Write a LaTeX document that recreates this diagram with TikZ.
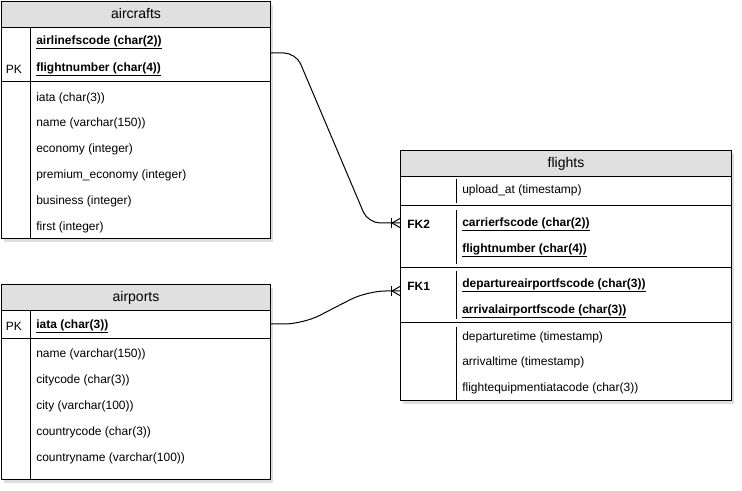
\documentclass[tikz,border=0pt]{standalone}
\usepackage{fontspec}
\setmainfont{Liberation Sans}
\usetikzlibrary{arrows.meta,positioning,calc}
\definecolor{headgray}{HTML}{E0E0E0}

\tikzset{
  tbl/.style={draw, line width=0.75pt, anchor=north west, inner sep=0pt},
  tblhead/.style={tbl, fill=headgray, font=\fontsize{10.5}{12}\selectfont, text depth=0pt, text height=6pt},
  fld/.style={anchor=west, inner sep=0pt, yshift=-1.2pt, font=\fontsize{9}{11}\selectfont},
  keyfld/.style={fld, font=\fontsize{9}{11}\selectfont\bfseries},
  shade/.style={fill=black, opacity=0.13},
  rel/.style={line width=0.75pt},
}

\begin{document}
\begin{tikzpicture}[x=0.75pt, y=-0.75pt]
  \useasboundingbox (0,0) rectangle (742,491);

  % shadows
  \fill[shade] (4,5) rectangle (273,242);
  \fill[shade] (4,288) rectangle (273,483);
  \fill[shade] (403,154) rectangle (734,404);

  % aircrafts
  \node[tbl, fill=white, minimum width=201.75pt, minimum height=177.75pt] (aircrafts) at (1,1) {};
  \node[tblhead, minimum width=201.75pt, minimum height=19.5pt] (aircraftsHead) at (1,1) {aircrafts};
  \draw[line width=0.75pt] (1,82) -- (270,82);
  \draw[line width=0.75pt] (30,27) -- (30,238);
  \node[fld, anchor=center] (aircraftsPK) at (14,68) {PK};
  \node[keyfld] (acCode) at (36,41) {\underline{airlinefscode (char(2))}};
  \node[keyfld] (acNumber) at (36,68) {\underline{flightnumber (char(4))}};
  \node[fld] (acIata) at (36,97) {iata (char(3))};
  \node[fld] (acName) at (36,122) {name (varchar(150))};
  \node[fld] (acEconomy) at (36,148) {economy (integer)};
  \node[fld] (acPremium) at (36,174) {premium\_economy (integer)};
  \node[fld] (acBusiness) at (36,200) {business (integer)};
  \node[fld] (acFirst) at (36,226) {first (integer)};

  % airports
  \node[tbl, fill=white, minimum width=201.75pt, minimum height=146.25pt] (airports) at (1,284) {};
  \node[tblhead, minimum width=201.75pt, minimum height=19.5pt] (airportsHead) at (1,284) {airports};
  \draw[line width=0.75pt] (1,339) -- (270,339);
  \draw[line width=0.75pt] (30,310) -- (30,479);
  \node[fld, anchor=center] (airportsPK) at (14,325) {PK};
  \node[keyfld] (apIata) at (36,325) {\underline{iata (char(3))}};
  \node[fld] (apName) at (36,353) {name (varchar(150))};
  \node[fld] (apCitycode) at (36,379) {citycode (char(3))};
  \node[fld] (apCity) at (36,405) {city (varchar(100))};
  \node[fld] (apCountrycode) at (36,431) {countrycode (char(3))};
  \node[fld] (apCountryname) at (36,457) {countryname (varchar(100))};

  % flights
  \node[tbl, fill=white, minimum width=248.25pt, minimum height=187.5pt] (flights) at (400,150) {};
  \node[tblhead, minimum width=248.25pt, minimum height=19.5pt] (flightsHead) at (400,150) {flights};
  \draw[line width=0.75pt] (400,206) -- (731,206);
  \draw[line width=0.75pt] (400,268) -- (731,268);
  \draw[line width=0.75pt] (400,323) -- (731,323);
  \draw[line width=0.75pt] (456,179) -- (456,203);
  \draw[line width=0.75pt] (456,210) -- (456,264);
  \draw[line width=0.75pt] (456,271) -- (456,319);
  \draw[line width=0.75pt] (456,327) -- (456,400);
  \node[fld] (flUpload) at (462,189) {upload\_at (timestamp)};
  \node[keyfld] (flFK2) at (407,223) {FK2};
  \node[keyfld] (flCarrier) at (462,223) {\underline{carrierfscode (char(2))}};
  \node[keyfld] (flNumber) at (462,249) {\underline{flightnumber (char(4))}};
  \node[keyfld] (flFK1) at (407,285) {FK1};
  \node[keyfld] (flDeparture) at (462,284) {\underline{departureairportfscode (char(3))}};
  \node[keyfld] (flArrival) at (462,310) {\underline{arrivalairportfscode (char(3))}};
  \node[fld] (flDeptime) at (462,336) {departuretime (timestamp)};
  \node[fld] (flArrtime) at (462,361) {arrivaltime (timestamp)};
  \node[fld] (flEquipment) at (462,387) {flightequipmentiatacode (char(3))};

  % relations
  \coordinate (acOut) at (aircrafts.east |- 0,53);
  \coordinate (fk2In) at (flights.west |- 0,223);
  \coordinate (apOut) at (airports.east |- 0,324);
  \coordinate (fk1In) at (flights.west |- 0,291);

  \draw[rel, rounded corners=9pt] (acOut) -- (296,53) -- (368,223) -- (fk2In);
  \draw[rel, rounded corners=14pt] (apOut) -- (303,324) -- (367,291) -- (fk1In);

  % crow's feet
  \draw[rel] ($(fk2In)+(-9,-5)$) -- ++(0,10);
  \draw[rel] ($(fk2In)+(0,-4.5)$) -- ($(fk2In)+(-8,0)$) -- ($(fk2In)+(0,4.5)$);
  \draw[rel] ($(fk1In)+(-9,-5)$) -- ++(0,10);
  \draw[rel] ($(fk1In)+(0,-4.5)$) -- ($(fk1In)+(-8,0)$) -- ($(fk1In)+(0,4.5)$);
\end{tikzpicture}
\end{document}
